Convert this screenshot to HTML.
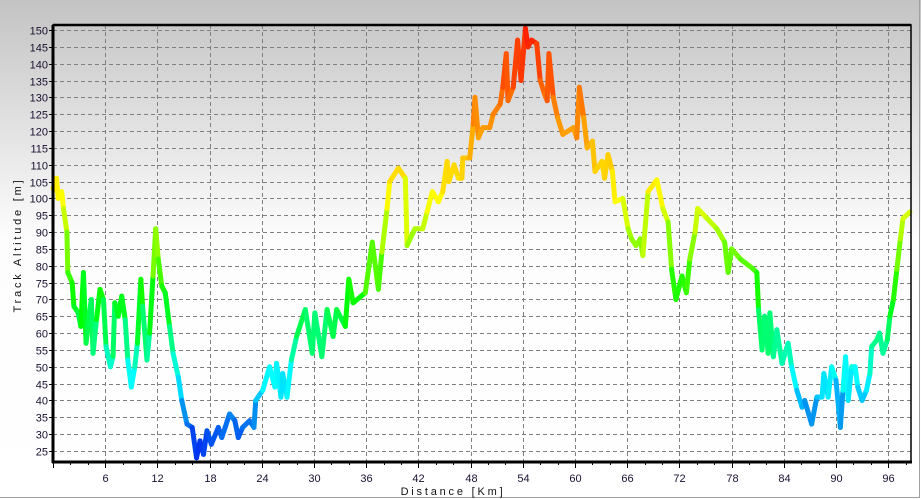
<!DOCTYPE html>
<html><head><meta charset="utf-8"><style>
html,body{margin:0;padding:0;width:921px;height:499px;overflow:hidden;background:#fff}
svg{display:block;font-family:"Liberation Sans",sans-serif}
</style></head><body>
<svg id="chart" width="921" height="499" viewBox="0 0 921 499" xmlns="http://www.w3.org/2000/svg">
<defs><linearGradient id="bg" x1="0" y1="0" x2="0" y2="1">
<stop offset="0" stop-color="#c3c3c3"/><stop offset="0.48" stop-color="#fdfdfd"/><stop offset="1" stop-color="#ffffff"/></linearGradient></defs>
<rect x="0" y="0" width="921" height="499" fill="url(#bg)"/>
<line x1="919.5" y1="0" x2="919.5" y2="498" stroke="#a0a0a0" stroke-width="1"/>
<line x1="0" y1="497.5" x2="920" y2="497.5" stroke="#a0a0a0" stroke-width="1"/>
<g id="grid"></g>
<g id="series"></g>
<g id="axes"></g>
<text transform="translate(21,245) rotate(-90)" text-anchor="middle" font-size="11" letter-spacing="2.8" fill="#111">Track Altitude [m]</text>
<text x="453" y="495" text-anchor="middle" font-size="11" letter-spacing="2.8" fill="#111">Distance [Km]</text>
</svg>
<script>
const distKm=[0,0.2,0.4,0.6,1,1.2,1.6,1.7,2.2,2.4,2.9,3.2,3.5,3.8,4.4,4.6,5,5.4,5.8,6.1,6.6,6.9,7.1,7.5,7.9,8.3,8.6,9,9.4,9.7,10.1,10.3,10.8,11.1,11.5,11.8,12.1,12.5,12.9,13.4,13.8,14.4,14.8,15.4,16,16.5,16.9,17.3,17.7,18.2,19,19.4,20.3,20.9,21.3,21.8,22.6,23.1,23.3,24.1,24.9,25.5,25.7,26.2,26.4,26.9,27.4,28,29,29.8,30.1,30.9,31.5,32.2,32.6,33.6,34,34.5,35.9,36.7,37.4,37.8,38.4,38.7,39.7,40.5,40.7,41.6,42.5,43,43.6,44.3,44.8,45.3,45.5,46.1,46.6,47,47.1,47.9,48.3,48.5,48.9,49.4,50.2,50.6,51.4,51.7,52.1,52.3,52.9,53.4,53.8,54.3,54.6,55,55.6,56,56.5,56.8,57,57.5,58,58.6,59.8,60.2,60.5,61,61.4,62,62.3,63.1,63.4,63.8,64.3,64.6,65.5,66.1,66.5,67,67.5,67.8,68.4,69.4,70.1,70.7,71.1,71.6,72.3,72.8,73.2,73.8,74.1,75.2,76.3,77.2,77.6,78,79,80.5,80.9,81.1,81.5,81.8,82.2,82.4,82.8,83.2,83.8,84.5,84.9,85.5,86.1,86.4,87.2,87.8,88.4,88.6,89.1,89.5,90,90.5,90.8,91.1,91.4,91.8,92.2,92.5,93,93.5,93.9,94.1,94.7,95,95.4,95.9,96.2,96.6,97,97.4,97.7,98.5];
const altitudeM=[103,102.5,106,100,102,97,90,78,75,68,66,62,78,57,70,54,64,73,70,56,50,53,69,65,71,64,52,44,50,57,76,68,52,60,77,91,82,74,72,62,54,47,40,33,32,23,28,24,31,27,32,29,36,34,29,32,34,32,40,43,50,44,51,41,48,41,52,59,67,54,66,53,67,59,67,62,76,69,72,87,73,84,97,105,109,106,86,91,91,96,102,99,102,111,105,110,106,106,112,112,122,130,118,121,121,125,128,133,143,129,133,147,135,150.5,145,147,146,135,131,129,143,130,124,119,121,118,133,124,115,117,108,111,106,113,108,99,100,91,88,86,88,83,102,105.5,97,93,79,70,77,72,82,90,97,94,91,87,78,85,82,79,78,67,55,65,54,66,53,61,51,57,50,43,38,40,33,41,41,48,41,50,46,32,43,53,40,50,50,44,40,43,48,56,58,60,54,58,65,70,79,88,94,96];
const xTicks=[6,12,18,24,30,36,42,48,54,60,66,72,78,84,90,96];
const yTicks=[25,30,35,40,45,50,55,60,65,70,75,80,85,90,95,100,105,110,115,120,125,130,135,140,145,150];
const NS='http://www.w3.org/2000/svg';
const L=53,R=911,T=25,B=462;
function xs(k){return L+k*8.7;}
function ys(a){return 30+(150-a)*3.368;}
function mk(tag,attrs,parent){const e=document.createElementNS(NS,tag);for(const k in attrs)e.setAttribute(k,attrs[k]);parent.appendChild(e);return e;}
const grid=document.getElementById('grid'),axes=document.getElementById('axes'),ser=document.getElementById('series');
yTicks.forEach(v=>{const y=Math.round(ys(v))+0.5;
 const g=mk('line',{x1:L,x2:R,y1:y,y2:y,stroke:'#808080','stroke-width':1,'stroke-dasharray':'4,3'},grid);
 
 
 const t=mk('line',{x1:L-4,x2:L,y1:y,y2:y,stroke:'#000','stroke-width':1},axes);
 
 
 const tx=mk('text',{x:L-5,y:y+4,'text-anchor':'end','font-size':11,fill:'#1a1030'},axes);
 tx.textContent=v;
 
 
});
xTicks.forEach(v=>{const x=Math.round(xs(v))+0.5;
 const g=mk('line',{x1:x,x2:x,y1:T,y2:B,stroke:'#808080','stroke-width':1,'stroke-dasharray':'4,3'},grid);
 
 
 const tx=mk('text',{x:x,y:482,'text-anchor':'middle','font-size':11,fill:'#1a1030'},axes);
 tx.textContent=v;
 
 
});
for(let k=0;k<=98;k+=2){const x=Math.round(xs(k))+0.5;
 const t=mk('line',{x1:x,x2:x,y1:B,y2:B+(k%6===0?6:3),stroke:'#000','stroke-width':1},axes);
 
 
}
function color(a){const st=[[22,235],[45,185],[70,120],[100,60],[125,32],[151,4]];
 let h=st[0][1];for(let i=0;i<st.length-1;i++){if(a>=st[i][0]&&a<=st[i+1][0]){h=st[i][1]+(a-st[i][0])/(st[i+1][0]-st[i][0])*(st[i+1][1]-st[i][1]);}}
 if(a>151)h=4;return 'hsl('+h+',100%,'+(h>200?47:50)+'%)';}
for(let i=0;i<distKm.length-1;i++){
 const a=(altitudeM[i]+altitudeM[i+1])/2;
 const s=mk('line',{x1:xs(distKm[i]),y1:ys(altitudeM[i]),x2:xs(distKm[i+1]),y2:ys(altitudeM[i+1]),stroke:color(a),'stroke-width':5,'stroke-linecap':'round'},ser);
 
 
}
const fr=mk('rect',{x:L,y:T,width:R-L,height:B-T,fill:'none',stroke:'#000','stroke-width':1.5},axes);


const ya=mk('line',{x1:L,x2:L,y1:T,y2:B+1,stroke:'#000','stroke-width':3},axes);


const xa=mk('line',{x1:L-1,x2:R+1,y1:B,y2:B,stroke:'#000','stroke-width':3},axes);


const tp=mk('line',{x1:L,x2:R,y1:T,y2:T,stroke:'#000','stroke-width':2.5},axes);


</script>
</body></html>
